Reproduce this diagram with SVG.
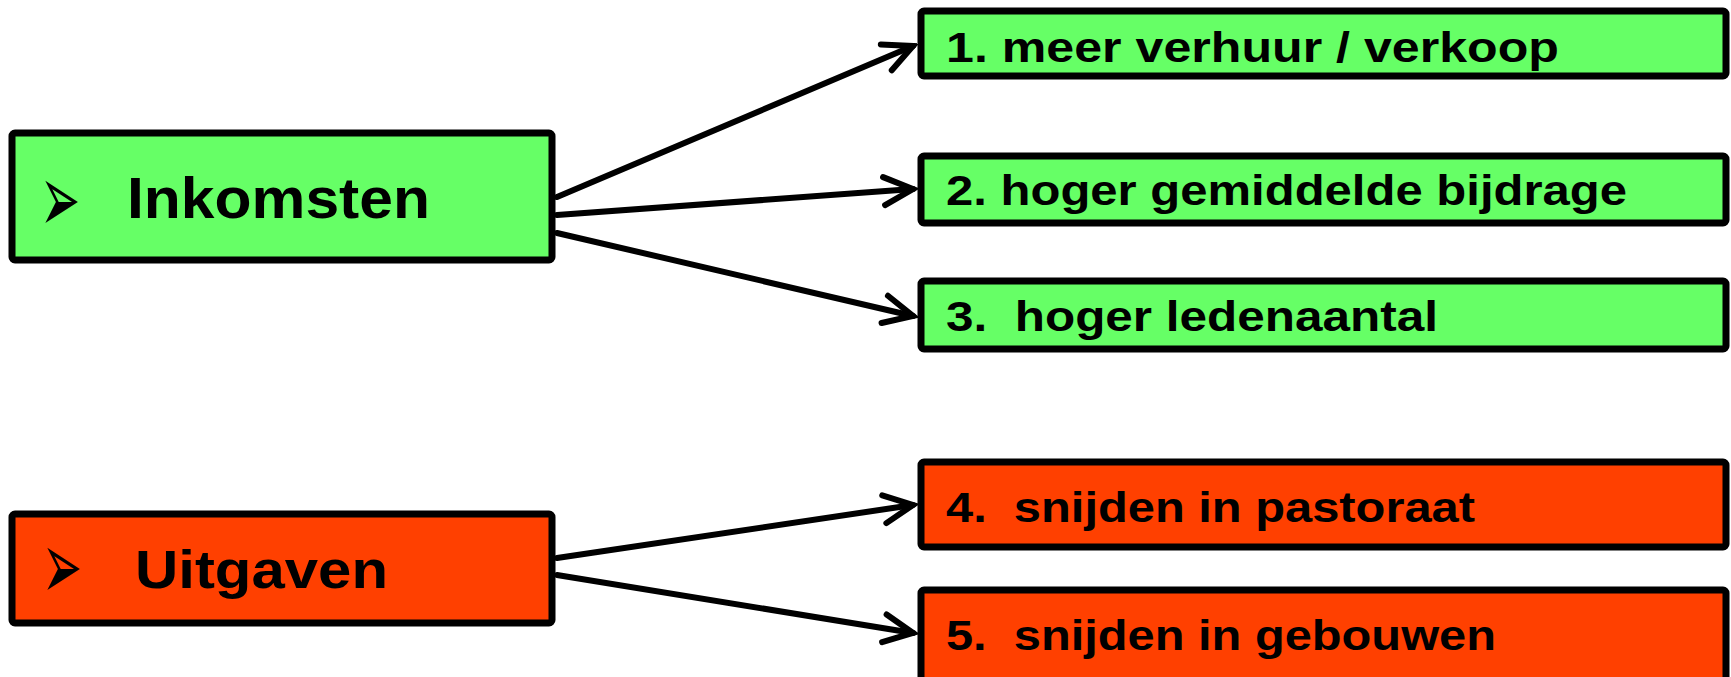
<svg xmlns="http://www.w3.org/2000/svg" width="1731" height="677" viewBox="0 0 1731 677">
<style>
.box{stroke:#000;stroke-width:7;stroke-linejoin:round}
.g{fill:#66FF66}
.r{fill:#FF4000}
.t{font-family:"Liberation Sans",Arial,sans-serif;font-weight:bold;fill:#000}
.big{font-size:57px}
.sm{font-size:42px}
.bul{font-family:"DejaVu Sans",sans-serif;font-size:48px;fill:#000}
.con{stroke:#000;stroke-width:6;fill:none;stroke-linecap:round}
</style>
<defs>
<marker id="ah" markerUnits="userSpaceOnUse" markerWidth="40" markerHeight="40" viewBox="0 0 40 40" refX="35" refY="20" orient="auto">
<path d="M6,6 L35,20 L6,34" fill="none" stroke="#000" stroke-width="6" stroke-linecap="round" stroke-linejoin="miter"/>
</marker>
</defs>
<rect width="1731" height="677" fill="#fff"/>
<g id="connectors">
<line class="con" x1="557" y1="197" x2="913" y2="46" marker-end="url(#ah)"/>
<line class="con" x1="557" y1="215" x2="913" y2="189" marker-end="url(#ah)"/>
<line class="con" x1="557" y1="233" x2="913" y2="316" marker-end="url(#ah)"/>
<line class="con" x1="557" y1="558" x2="913" y2="505" marker-end="url(#ah)"/>
<line class="con" x1="557" y1="575" x2="913" y2="633" marker-end="url(#ah)"/>
</g>
<g id="inkomsten">
<rect class="box g" x="12" y="133" width="540" height="127" rx="3"/>
<text class="bul" transform="translate(40,232) scale(1,2)">➢</text>
<text class="t big" x="127" y="218" textLength="303" lengthAdjust="spacingAndGlyphs">Inkomsten</text>
</g>
<g id="uitgaven">
<rect class="box r" x="12" y="514" width="540" height="109" rx="3"/>
<text class="bul" transform="translate(42,599) scale(1,2)">➢</text>
<text class="t big" x="135" y="588" textLength="253" lengthAdjust="spacingAndGlyphs" style="font-size:54px">Uitgaven</text>
</g>
<g id="n1">
<rect class="box g" x="921" y="11" width="805" height="65" rx="3"/>
<text class="t sm" x="946" y="62" textLength="613" lengthAdjust="spacingAndGlyphs">1. meer verhuur / verkoop</text>
</g>
<g id="n2">
<rect class="box g" x="921" y="156" width="805" height="67" rx="3"/>
<text class="t sm" x="946" y="205" textLength="681" lengthAdjust="spacingAndGlyphs">2. hoger gemiddelde bijdrage</text>
</g>
<g id="n3">
<rect class="box g" x="921" y="281" width="805" height="68" rx="3"/>
<text class="t sm" x="946" y="331" textLength="492" lengthAdjust="spacingAndGlyphs" xml:space="preserve">3.  hoger ledenaantal</text>
</g>
<g id="n4">
<rect class="box r" x="921" y="462" width="805" height="85" rx="3"/>
<text class="t sm" x="946" y="522" textLength="529" lengthAdjust="spacingAndGlyphs" xml:space="preserve">4.  snijden in pastoraat</text>
</g>
<g id="n5">
<rect class="box r" x="921" y="590" width="805" height="100" rx="3"/>
<text class="t sm" x="946" y="650" textLength="550" lengthAdjust="spacingAndGlyphs" xml:space="preserve">5.  snijden in gebouwen</text>
</g>
</svg>
